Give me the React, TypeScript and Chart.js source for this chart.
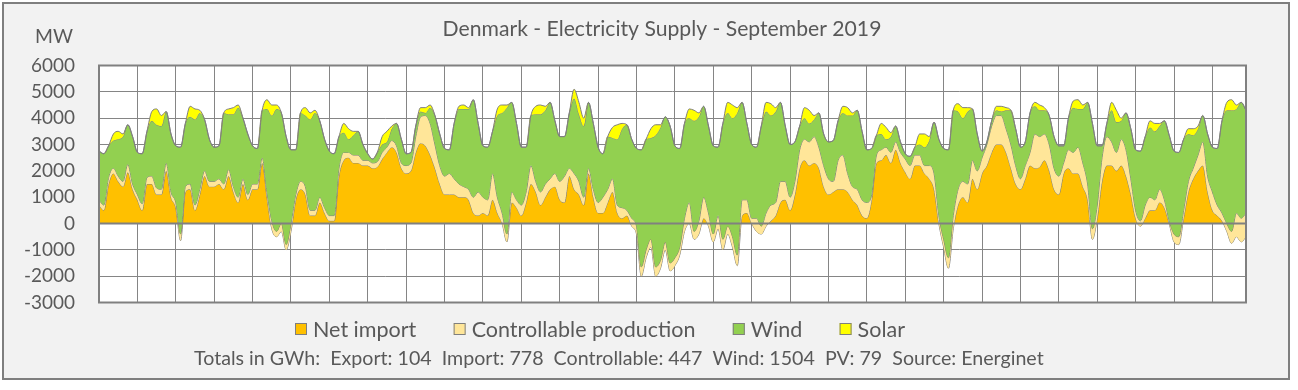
import { useEffect, useRef } from "react";
import { Chart, registerables } from "chart.js";

Chart.register(...registerables);

// ---- Data (3-hourly values, September 2019, MW) ----
const STEP_HOURS = 3;

const netImport = [
  700, 500, 1500, 1900, 1600, 1400, 1950, 1300,
  900, 500, 1500, 1500, 1100, 1100, 2000, 1000,
  600, -650, 1200, 1300, 500, 1100, 1800, 1400,
  1400, 1500, 1300, 1800, 1200, 800, 1500, 900,
  1300, 1300, 2300, 1000, -200, -500, -300, -1000,
  -300, 900, 1300, 1100, 300, 300, 800, 400,
  100, 100, 1800, 2400, 2500, 2300, 2300, 2200,
  2200, 2100, 2150, 2450, 2700, 2900, 2700, 2100,
  1900, 2000, 2700, 3050, 2950, 2600, 2100, 1500,
  1100, 1100, 1100, 1000, 1000, 900, 400, 300,
  400, 300, 900, 400, 0, -700, 800, 600,
  300, 800, 1500, 1200, 700, 1000, 1300, 1400,
  900, 800, 1800, 1300, 1100, 700, 1900, 1000,
  400, 400, 800, 1200, 400, 200, 300, -100,
  -400, -2000, -1300, -900, -2000, -1700, -1000, -1800,
  -1600, -1200, -300, 0, -600, -400, 200, -100,
  -700, -200, -1000, -400, -900, -1600, 300, 400,
  0, -300, -400, -100, 100, 300, 800, 900,
  500, 1100, 2100, 2400, 2200, 2300, 2100, 1400,
  1100, 1200, 1300, 1300, 1200, 900, 700, 300,
  200, 900, 2300, 2400, 2600, 2300, 2800, 2300,
  1950, 1700, 2200, 2200, 1900, 1700, 1300, 0,
  -900, -1700, -200, 700, 1000, 800, 1700, 1300,
  1900, 2200, 2700, 3000, 3000, 2700, 2100, 1500,
  1300, 1700, 2200, 2100, 2150, 2400, 2000, 1300,
  1100, 1900, 2100, 1900, 1900, 1400, 900, -600,
  200, 1600, 2200, 2200, 2000, 2200, 1800, 1100,
  200, -100, 200, 500, 500, 800, 600, 0,
  -700, -800, 200, 1200, 1700, 2000, 2200, 1200,
  500, 300, 100, -300, -750, -500, -700, -500,
];

const controllable = [
  200, 200, 250, 200, 200, 200, 300, 200,
  200, 250, 250, 300, 250, 200, 300, 200,
  200, 250, 200, 200, 200, 200, 200, 200,
  200, 200, 200, 250, 200, 200, 200, 200,
  200, 200, 200, 200, 300, 200, 300, 200,
  300, 200, 300, 300, 200, 200, 200, 200,
  200, 200, 300, 300, 200, 300, 300, 200,
  200, 200, 200, 250, 200, 250, 250, 200,
  300, 300, 600, 1000, 1150, 1200, 900, 700,
  700, 800, 600, 500, 400, 400, 600, 900,
  600, 600, 1000, 600, 400, 300, 400, 300,
  400, 400, 700, 400, 500, 500, 400, 500,
  700, 1000, 300, 600, 500, 300, 200, 300,
  400, 600, 500, 500, 300, 400, 200, 300,
  300, 350, 300, 300, 350, 300, 300, 300,
  300, 300, 500, 800, 300, 500, 800, 500,
  300, 500, 400, 300, 400, 400, 600, 500,
  200, 500, 300, 500, 600, 500, 800, 700,
  500, 500, 700, 800, 900, 1000, 800, 800,
  600, 400, 1100, 1300, 700, 500, 600, 600,
  600, 200, 300, 400, 300, 400, 300, 400,
  500, 500, 400, 400, 300, 500, 600, 300,
  300, 400, 500, 600, 600, 700, 700, 700,
  600, 800, 1000, 1100, 1100, 900, 900, 700,
  400, 500, 500, 1300, 1150, 1000, 1000, 800,
  700, 400, 700, 800, 1000, 900, 600, 400,
  500, 900, 1100, 900, 700, 1000, 1000, 600,
  300, 200, 500, 500, 400, 500, 300, 100,
  300, 300, 300, 400, 400, 600, 900, 600,
  700, 400, 300, 300, 450, 900, 900, 900,
];

const wind = [
  1850, 1950, 1200, 1050, 1400, 1700, 1500, 1800,
  1600, 1900, 1750, 2100, 2400, 2400, 1950, 2200,
  2150, 3300, 2400, 2550, 3250, 2900, 1950, 1600,
  1300, 1250, 2700, 2100, 2750, 3400, 2300, 2300,
  1450, 1350, 1800, 3150, 4000, 4650, 4200, 4100,
  2800, 1700, 2600, 2700, 3450, 3700, 2900, 2600,
  2450, 2350, 1200, 750, 500, 750, 900, 600,
  250, 150, 350, 300, 200, 450, 850, 900,
  450, 400, 400, 200, 100, 600, 1100, 1200,
  1050, 900, 2100, 2850, 2950, 3050, 3700, 2600,
  1950, 2000, 1600, 3100, 3800, 4800, 3400, 2900,
  2200, 1700, 1900, 2550, 2950, 2800, 2900, 2000,
  1700, 1500, 2100, 2850, 2550, 2700, 2500, 2500,
  2100, 1650, 2000, 1550, 2500, 3000, 3250, 3000,
  2950, 4450, 4200, 3850, 5000, 5050, 4750, 5200,
  4250, 3750, 3600, 3200, 4200, 3950, 3450, 3300,
  3350, 2600, 4400, 4300, 4500, 5400, 3700, 2900,
  2800, 2700, 3800, 3850, 3400, 3450, 3000, 2100,
  2000, 1500, 900, 800, 700, 650, 1300, 1200,
  1400, 1550, 1500, 1600, 2200, 2700, 3000, 2600,
  2000, 1750, 750, 600, 300, 600, 600, 400,
  200, 350, 300, 400, 700, 950, 1950, 2900,
  3450, 4100, 4000, 2950, 2400, 2750, 1950, 1400,
  250, 100, 200, 200, 150, 700, 1300, 1400,
  1200, 900, 1500, 1050, 1000, 900, 1100, 1200,
  1150, 650, 1200, 1700, 1450, 2050, 3100, 4000,
  2250, 450, 500, 1200, 1150, 700, 1400, 1900,
  2300, 2650, 2600, 2650, 2600, 2400, 3000, 3250,
  3150, 3200, 2700, 1800, 1250, 1000, 1000, 1600,
  1700, 2150, 3500, 4300, 4600, 3950, 4400, 3900,
];

const solar = [
  0, 0, 0, 250, 300, 100, 0, 0,
  0, 0, 0, 350, 600, 400, 0, 0,
  0, 0, 0, 400, 400, 100, 0, 0,
  0, 0, 0, 200, 250, 100, 0, 0,
  0, 0, 0, 350, 400, 150, 0, 0,
  0, 0, 0, 300, 250, 100, 0, 0,
  0, 0, 0, 350, 400, 150, 0, 0,
  0, 0, 0, 300, 400, 100, 0, 0,
  0, 0, 0, 150, 200, 100, 0, 0,
  0, 0, 0, 100, 150, 50, 0, 0,
  0, 0, 0, 250, 300, 100, 0, 0,
  0, 0, 0, 300, 350, 150, 0, 0,
  0, 0, 0, 350, 450, 300, 0, 0,
  0, 0, 0, 400, 550, 200, 0, 0,
  0, 0, 0, 350, 400, 100, 0, 0,
  0, 0, 0, 350, 400, 150, 0, 0,
  0, 0, 0, 400, 500, 200, 0, 0,
  0, 0, 0, 350, 450, 150, 0, 0,
  0, 0, 0, 400, 500, 150, 0, 0,
  0, 0, 0, 250, 300, 100, 0, 0,
  0, 0, 0, 400, 450, 150, 0, 0,
  0, 0, 0, 400, 500, 150, 0, 0,
  0, 0, 0, 300, 400, 150, 0, 0,
  0, 0, 0, 150, 200, 100, 0, 0,
  0, 0, 0, 150, 200, 100, 0, 0,
  0, 0, 0, 250, 350, 150, 0, 0,
  0, 0, 0, 300, 450, 100, 0, 0,
  0, 0, 0, 250, 300, 100, 0, 0,
  0, 0, 0, 200, 250, 100, 0, 0,
  0, 0, 0, 300, 400, 150, 0, 0,
];

const yTicks = [-3000, -2000, -1000, 0, 1000, 2000, 3000, 4000, 5000, 6000];
const seriesNames = ["Net import", "Controllable production", "Wind", "Solar"];
const seriesColors = ["#FFC000", "#FFE699", "#92D050", "#FFFF00"];
const titleText = "Denmark - Electricity Supply - September 2019";
const unitText = "MW";
const footerText =
  "Totals in GWh:  Export: 104  Import: 778  Controllable: 447  Wind: 1504  PV: 79  Source: Energinet";

// ---- Styling ----
const FAMILY = "Lato, 'Open Sans', sans-serif";
const TEXT_COLOR = "#595959";
const GRID_COLOR = "#858585";
const W = 1298;
const H = 390;
const PLOT = { left: 99, right: 1246, top: 65.5, bottom: 302.5 };

function fitSize(text: string, target: number): number {
  const c = document.createElement("canvas").getContext("2d")!;
  c.font = `100px ${FAMILY}`;
  return (100 * target) / c.measureText(text).width;
}

export default function App() {
  const ref = useRef<HTMLCanvasElement>(null);

  useEffect(() => {
    const hours = netImport.map((_, i) => i * STEP_HOURS);
    const cum1 = netImport.map((v, i) => v + controllable[i]);
    const cum2 = cum1.map((v, i) => v + wind[i]);
    const cum3 = cum2.map((v, i) => v + solar[i]);
    const layers = [netImport, cum1, cum2, cum3];

    const tickSize = fitSize("6000", 44);
    const titleSize = fitSize(titleText, 439);
    const unitSize = fitSize(unitText, 38);
    const legendSize = fitSize("Controllable production", 224);
    const footerSize = fitSize(footerText, 850);

    const frame = {
      id: "frame",
      beforeDraw(chart: any) {
        const { ctx, chartArea } = chart;
        ctx.save();
        ctx.fillStyle = "#ffffff";
        ctx.fillRect(0, 0, W, H);
        ctx.fillStyle = "#f2f2f2";
        ctx.fillRect(3, 3, 1286, 376);
        ctx.strokeStyle = "#7f7f7f";
        ctx.lineWidth = 2;
        ctx.strokeRect(3, 3, 1286, 376);
        ctx.fillStyle = "#ffffff";
        ctx.fillRect(chartArea.left, chartArea.top, chartArea.right - chartArea.left, chartArea.bottom - chartArea.top);
        ctx.restore();
      },
      afterDatasetsDraw(chart: any) {
        const { ctx, chartArea, scales } = chart;
        const y0 = scales.y.getPixelForValue(0);
        ctx.save();
        ctx.strokeStyle = "#808080";
        ctx.lineWidth = 2;
        ctx.beginPath();
        ctx.moveTo(chartArea.left, y0);
        ctx.lineTo(chartArea.right, y0);
        ctx.stroke();
        ctx.strokeRect(chartArea.left, chartArea.top, chartArea.right - chartArea.left, chartArea.bottom - chartArea.top);
        ctx.restore();
      },
      afterDraw(chart: any) {
        const { ctx } = chart;
        ctx.save();
        ctx.fillStyle = TEXT_COLOR;
        ctx.textBaseline = "alphabetic";
        // title
        ctx.font = `${titleSize}px ${FAMILY}`;
        ctx.textAlign = "center";
        ctx.fillText(titleText, 662, 36);
        // unit
        ctx.font = `${unitSize}px ${FAMILY}`;
        ctx.fillText(unitText, 54, 43);
        // legend
        ctx.font = `${legendSize}px ${FAMILY}`;
        ctx.textAlign = "left";
        const widths = seriesNames.map((n) => ctx.measureText(n).width);
        const box = 12;
        const gap = 6;
        const lLeft = 295;
        const lRight = 905;
        const total = widths.reduce((a, b) => a + b, 0);
        const spacing = (lRight - lLeft - seriesNames.length * (box + gap) - total) / (seriesNames.length - 1);
        let x = lLeft;
        seriesNames.forEach((name, k) => {
          ctx.fillStyle = seriesColors[k];
          ctx.fillRect(x, 323, box, box);
          ctx.strokeStyle = "#7f7f7f";
          ctx.lineWidth = 1;
          ctx.strokeRect(x + 0.5, 323.5, box - 1, box - 1);
          ctx.fillStyle = TEXT_COLOR;
          ctx.fillText(name, x + box + gap, 337);
          x += box + gap + widths[k] + spacing;
        });
        // footer
        ctx.font = `${footerSize}px ${FAMILY}`;
        ctx.fillText(footerText, 194, 365);
        ctx.restore();
      },
    };

    const chart = new Chart(ref.current!, {
      type: "line",
      data: {
        datasets: layers.map((arr, k) => ({
          label: seriesNames[k],
          data: arr.map((y, i) => ({ x: hours[i], y })),
          backgroundColor: seriesColors[k],
          borderColor: "#7f7f7f",
          borderWidth: 1,
          pointRadius: 0,
          fill: k === 0 ? "origin" : "-1",
          order: layers.length - k,
          cubicInterpolationMode: "monotone",
        })),
      },
      options: {
        animation: false,
        responsive: false,
        devicePixelRatio: 1,
        layout: {
          padding: { left: 0, top: PLOT.top, right: W - PLOT.right, bottom: H - PLOT.bottom },
        },
        plugins: {
          legend: { display: false },
          title: { display: false },
          tooltip: { enabled: false },
        },
        scales: {
          x: {
            type: "linear",
            min: 0,
            max: hours[hours.length - 1],
            ticks: { display: false, stepSize: 24 },
            grid: { color: GRID_COLOR, lineWidth: 1, drawTicks: false },
            border: { display: false },
            afterFit: (s: any) => {
              s.height = 0;
            },
          },
          y: {
            min: -3000,
            max: 6000,
            afterBuildTicks: (s: any) => {
              s.ticks = yTicks.map((v) => ({ value: v }));
            },
            ticks: {
              color: TEXT_COLOR,
              font: { family: FAMILY, size: tickSize },
              padding: 24,
              callback: (v: any) => String(v),
            },
            grid: { color: GRID_COLOR, lineWidth: 1, drawTicks: false },
            border: { display: false },
            afterFit: (s: any) => {
              s.width = PLOT.left;
            },
          },
        },
      } as any,
      plugins: [frame],
    });

    return () => chart.destroy();
  }, []);

  return (
    <div style={{ position: "absolute", left: 0, top: 0, width: W, height: H }}>
      <canvas ref={ref} width={W} height={H} style={{ display: "block" }} />
    </div>
  );
}
